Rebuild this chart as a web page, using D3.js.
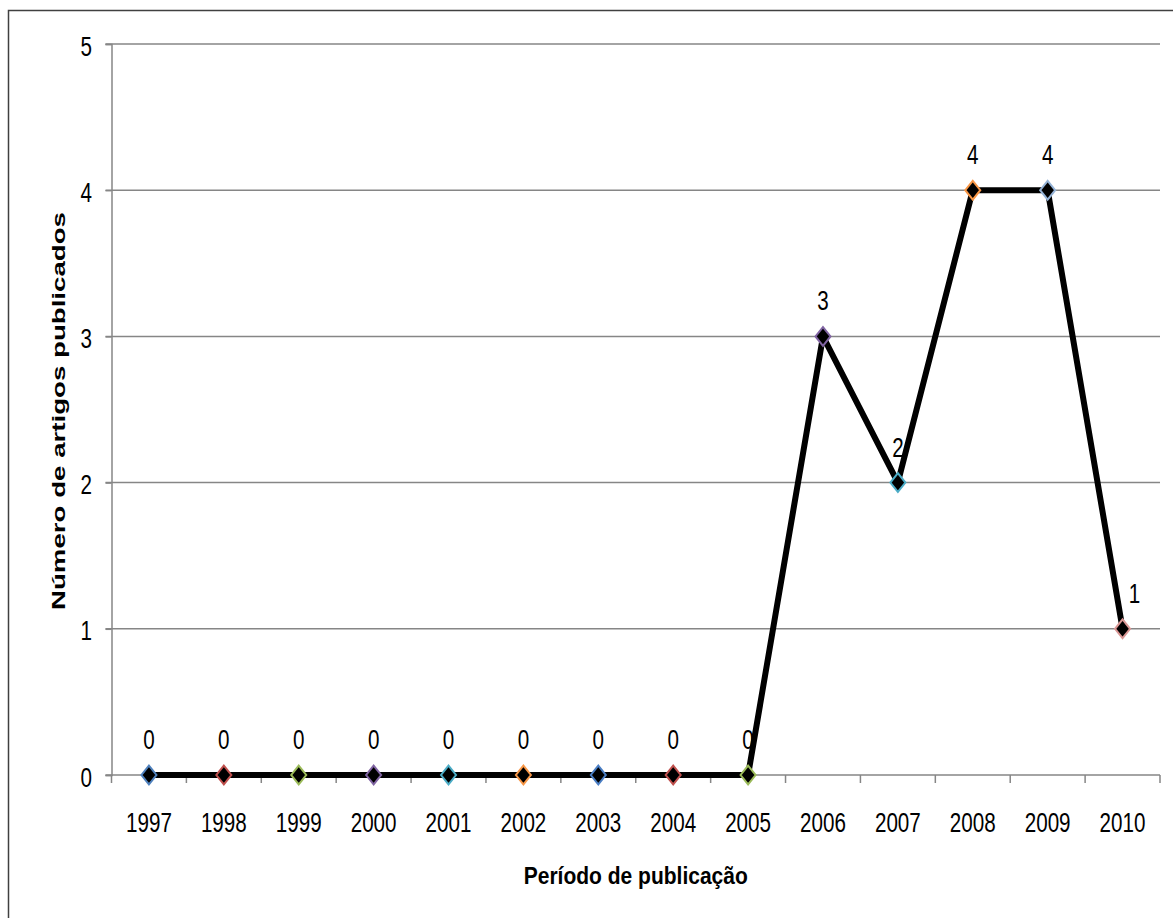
<!DOCTYPE html>
<html>
<head>
<meta charset="utf-8">
<script src="https://cdn.jsdelivr.net/npm/d3@7"></script>
<style>
  body { margin: 0; background: #fff; }
  text { font-family: "Liberation Sans", Arial, sans-serif; fill: #000; }
</style>
</head>
<body>
<div id="chart"></div>
<script>
// data
var years = ["1997","1998","1999","2000","2001","2002","2003","2004","2005","2006","2007","2008","2009","2010"];
var articles = [0,0,0,0,0,0,0,0,0,3,2,4,4,1];
var markerColors = ["#4F81BD","#C0504D","#9BBB59","#8064A2","#4BACC6","#F79646","#4A7EC4","#C0504D","#9BBB59","#8064A2","#4BACC6","#F79646","#95B3D7","#D99694"];
var yTicks = [0,1,2,3,4,5];

var width = 1173, height = 918;
var plotLeft = 111.5, plotRight = 1160, plotTop = 44, plotBottom = 775;
var axisColor = "#868686";

var svg = d3.select("#chart").append("svg")
	.attr("width", width)
	.attr("height", height);

// outer frame (runs off right/bottom edge)
svg.append("rect")
	.attr("x", 8.5).attr("y", 10.5)
	.attr("width", 1300).attr("height", 1000)
	.attr("fill", "none")
	.attr("stroke", "#404040")
	.attr("stroke-width", 1.5);

var x = d3.scaleBand().domain(years).range([plotLeft, plotRight]).padding(0);
var y = d3.scaleLinear().domain([0,5]).range([plotBottom, plotTop]);

// horizontal gridlines
svg.append("g").selectAll("line")
	.data(yTicks.filter(d => d > 0))
	.enter().append("line")
	.attr("x1", plotLeft - 6).attr("x2", plotRight)
	.attr("y1", d => y(d)).attr("y2", d => y(d))
	.attr("stroke", axisColor)
	.attr("stroke-width", 1.5);

// y axis
var yAxis = svg.append("g")
	.attr("transform", "translate(" + plotLeft + ",0)")
	.call(d3.axisLeft(y).tickValues(yTicks).tickSize(6).tickFormat(d3.format("d")));
yAxis.select(".domain").attr("stroke", axisColor).attr("stroke-width", 1.5);
yAxis.selectAll(".tick line").attr("stroke", axisColor).attr("stroke-width", 1.5);
yAxis.selectAll(".tick text")
	.attr("x", -26).attr("dy", null).attr("y", 11)
	.attr("transform", "scale(0.75,1)")
	.style("font-size", "27.5px")
	.style("font-family", "'Liberation Sans', Arial, sans-serif");

// x axis: labels centred in bands, ticks on band edges
var xAxis = svg.append("g")
	.attr("transform", "translate(0," + plotBottom + ")")
	.call(d3.axisBottom(x).tickSize(0));
xAxis.select(".domain").remove();
xAxis.selectAll(".tick text")
	.attr("y", 57).attr("dy", null)
	.attr("transform", "scale(0.75,1)")
	.style("font-size", "27.5px")
	.style("font-family", "'Liberation Sans', Arial, sans-serif");

svg.append("line")
	.attr("x1", plotLeft - 6).attr("x2", plotRight)
	.attr("y1", plotBottom).attr("y2", plotBottom)
	.attr("stroke", axisColor).attr("stroke-width", 1.5);

var edges = years.map(d => x(d)).concat([x.range()[1]]);
svg.append("g").selectAll("line")
	.data(edges)
	.enter().append("line")
	.attr("x1", d => d).attr("x2", d => d)
	.attr("y1", plotBottom).attr("y2", plotBottom + 8)
	.attr("stroke", axisColor).attr("stroke-width", 1.5);

// data line
var cx = d => x(d) + x.bandwidth() / 2;
var line = d3.line()
	.x((d, i) => cx(years[i]))
	.y(d => y(d));

svg.append("path")
	.datum(articles)
	.attr("d", line)
	.attr("fill", "none")
	.attr("stroke", "#000")
	.attr("stroke-width", 6)
	.attr("stroke-linejoin", "round");

// diamond markers, a bit taller than wide
var tallDiamond = {
	draw: function(ctx, size){
		var w = Math.sqrt(size) / 2, h = w * 1.25;
		ctx.moveTo(0, -h);
		ctx.lineTo(w, 0);
		ctx.lineTo(0, h);
		ctx.lineTo(-w, 0);
		ctx.closePath();
	}
};

svg.append("g").selectAll("path")
	.data(articles)
	.enter().append("path")
	.attr("d", d3.symbol().type(tallDiamond).size(225))
	.attr("transform", (d, i) => "translate(" + cx(years[i]) + "," + y(d) + ")")
	.attr("fill", "#000")
	.attr("stroke", (d, i) => markerColors[i])
	.attr("stroke-width", 2);

// value labels
svg.append("g").selectAll("g")
	.data(articles)
	.enter().append("g")
	.attr("transform", function(d, i){
		var dx = (i == articles.length - 1) ? 12 : 0;  // last label sits to the right
		return "translate(" + (cx(years[i]) + dx) + "," + (y(d) - 26) + ")";
	})
	.append("text")
	.attr("text-anchor", "middle")
	.attr("transform", "scale(0.75,1)")
	.style("font-size", "27.5px")
	.text(d => d);

// axis titles
svg.append("text")
	.attr("x", (plotLeft + plotRight) / 2)
	.attr("y", 884)
	.attr("text-anchor", "middle")
	.attr("textLength", 224)
	.attr("lengthAdjust", "spacingAndGlyphs")
	.style("font-size", "23px")
	.style("font-weight", "bold")
	.text("Período de publicação");

svg.append("text")
	.attr("transform", "translate(65,411) rotate(-90)")
	.attr("text-anchor", "middle")
	.attr("textLength", 398)
	.attr("lengthAdjust", "spacingAndGlyphs")
	.style("font-size", "18.5px")
	.style("font-weight", "bold")
	.text("Número de artigos  publicados");
</script>
</body>
</html>
